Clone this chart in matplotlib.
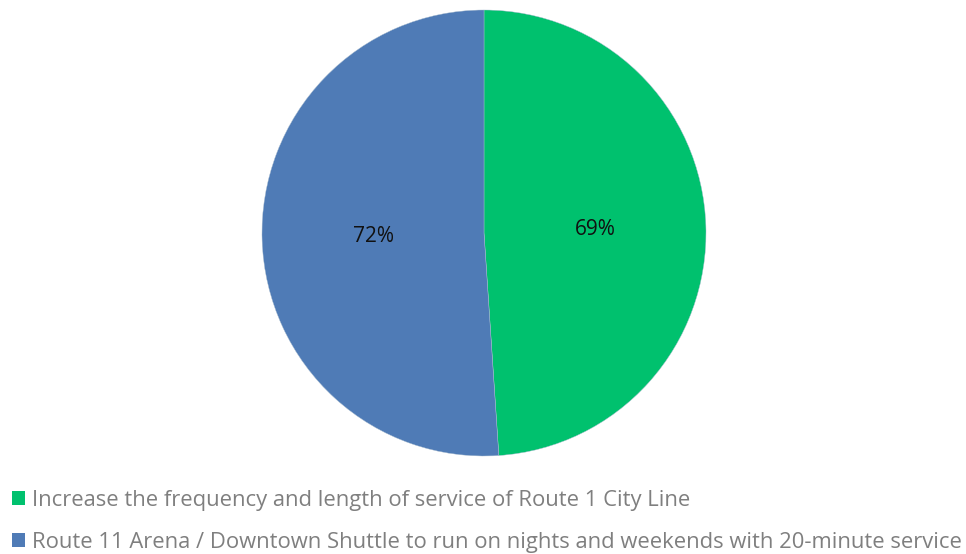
import matplotlib
matplotlib.use("Agg")
import matplotlib.pyplot as plt
from matplotlib.patches import Patch

plt.rcParams['font.family'] = ['Open Sans', 'DejaVu Sans']

categories = [
    "Increase the frequency and length of service of Route 1 City Line",
    "Route 11 Arena / Downtown Shuttle to run on nights and weekends with 20-minute service",
]
values = [69, 72]
pct_labels = ["69%", "72%"]
colors = ["#00C16E", "#4F7BB6"]

fig = plt.figure(figsize=(9.66, 5.54), dpi=100)
ax = fig.add_axes([262 / 966, 98 / 554, 444 / 966, 446 / 554])

wedges, texts = ax.pie(values, colors=colors, startangle=90, counterclock=False,
                       labels=pct_labels, labeldistance=0.5,
                       wedgeprops=dict(linewidth=0.3, edgecolor="#a8bccf"),
                       textprops=dict(fontsize=15, color="#111111"))
for t in texts:
    t.set_ha("center")
    t.set_va("center")
ax.set_xlim(-1, 1)
ax.set_ylim(-1, 1)
ax.set_aspect("auto")

handles = [Patch(facecolor=c, edgecolor="none") for c in colors]
leg = fig.legend(handles, categories, loc="upper left", bbox_to_anchor=(3 / 966, 1 - 481 / 554),
                 frameon=False, fontsize=15.8, labelcolor="#7f7f7f",
                 handlelength=0.6, handleheight=0.6, handletextpad=0.3,
                 labelspacing=0.95, borderaxespad=0)

fig.savefig("out.png", dpi=100)
